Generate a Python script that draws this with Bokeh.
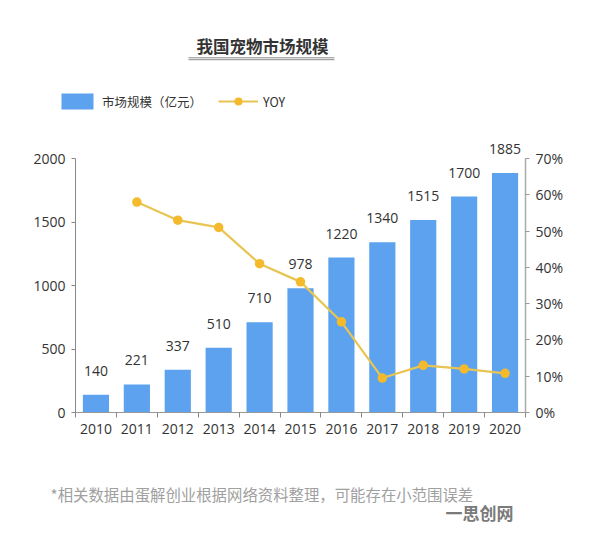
from bokeh.plotting import figure
from bokeh.models import (Range1d, LinearAxis, FixedTicker, PrintfTickFormatter,
                          ColumnDataSource, LabelSet, Label, Legend, LegendItem, Arrow)
from bokeh.core.properties import value
from bokeh.embed import file_html
from bokeh.resources import INLINE

years = ["2010", "2011", "2012", "2013", "2014", "2015", "2016", "2017", "2018", "2019", "2020"]
market = [140, 221, 337, 510, 710, 978, 1220, 1340, 1515, 1700, 1885]
yoy_years = ["2011", "2012", "2013", "2014", "2015", "2016", "2017", "2018", "2019", "2020"]
yoy = [58, 53, 51, 41, 36, 25, 9.5, 13, 12, 10.8]
left_ticks = [0, 500, 1000, 1500, 2000]
right_ticks = [0, 10, 20, 30, 40, 50, 60, 70]

title_text = "我国宠物市场规模"
bar_name = "市场规模（亿元）"
line_name = "YOY"
note_text = "*相关数据由蛋解创业根据网络资料整理，可能存在小范围误差"
mark_text = "一思创网"

FONT = "Open Sans"
CJK = "Noto Sans CJK SC"

W, H = 596, 535
# pixel layout of the plotting area on the canvas
PX_L, PX_R = 75, 525          # category block left / right edge
PX_TOP, PX_BOT = 158, 412     # y of the top tick / zero line
n = len(years)
LMAX, RMAX = left_ticks[-1], right_ticks[-1]
ux = (PX_R - PX_L) / n        # px per category
uy = (PX_BOT - PX_TOP)        # px for the whole tick span

x0 = -0.5 - PX_L / ux
x1 = n - 0.5 + (W - PX_R) / ux
def yr(top):
    return Range1d(-(H - PX_BOT) * top / uy, PX_BOT * top / uy)

xpos = list(range(n))
ypos = [years.index(y) for y in yoy_years]

p = figure(width=W, height=H, output_backend="svg", toolbar_location=None,
           x_range=Range1d(x0, x1), y_range=yr(LMAX),
           min_border_left=0, min_border_right=0, min_border_top=0, min_border_bottom=0,
           background_fill_color="white", border_fill_color="white")
p.outline_line_color = None
p.xgrid.visible = False
p.ygrid.visible = False
p.extra_y_ranges = {"yoy": yr(RMAX)}

src = ColumnDataSource(dict(x=xpos, v=market, lab=[str(m) for m in market]))
bars = p.vbar(x="x", top="v", width=0.64, source=src, fill_color="#5ca2ee", line_color=None)

lsrc = ColumnDataSource(dict(x=ypos, y=yoy))
ln = p.line(x="x", y="y", source=lsrc, y_range_name="yoy", line_color="#e8c552", line_width=2.2)
pts = p.scatter(x="x", y="y", source=lsrc, y_range_name="yoy", size=9.5,
                fill_color="#f4ba2c", line_color=None)

labels = LabelSet(x="x", y="v", text="lab", source=src, text_align="center",
                  text_baseline="alphabetic", y_offset=19, text_font=value(FONT),
                  text_font_size=value("14px"), text_color=value("#333333"))
p.add_layout(labels)

# x axis
xa = p.xaxis[0]
xa.fixed_location = 0
xa.bounds = (-0.5, n - 0.5)
xa.ticker = FixedTicker(ticks=xpos, minor_ticks=[i - 0.5 for i in range(n + 1)])
xa.major_label_overrides = {i: y for i, y in zip(xpos, years)}
xa.major_tick_out = 0
xa.major_tick_in = 0
xa.minor_tick_out = 5
xa.minor_tick_in = 0
xa.minor_tick_line_color = "#888888"
xa.axis_line_color = "#999999"
xa.major_label_text_font = FONT
xa.major_label_text_font_size = "14px"
xa.major_label_text_color = "#333333"
xa.major_label_standoff = 6

ya = p.yaxis[0]
ya.fixed_location = -0.5
ya.bounds = (0, LMAX)
ya.ticker = FixedTicker(ticks=left_ticks, minor_ticks=[])
ya.major_tick_out = 4
ya.major_tick_in = 0
ya.minor_tick_out = 0
ya.axis_line_color = "#888888"
ya.major_tick_line_color = "#888888"
ya.major_label_text_font = FONT
ya.major_label_text_font_size = "14px"
ya.major_label_text_color = "#333333"
ya.major_label_standoff = 6

ra = LinearAxis(y_range_name="yoy", bounds=(0, RMAX), fixed_location=n - 0.5,
                ticker=FixedTicker(ticks=right_ticks, minor_ticks=[]),
                formatter=PrintfTickFormatter(format="%d%%"))
ra.major_tick_out = 4
ra.major_tick_in = 0
ra.minor_tick_out = 0
ra.axis_line_color = "#aaaaaa"
ra.axis_line_width = 1.5
ra.major_tick_line_color = "#999999"
ra.major_label_text_font = FONT
ra.major_label_text_font_size = "14px"
ra.major_label_text_color = "#333333"
ra.major_label_standoff = 6
p.add_layout(ra, "right")

# helpers converting canvas pixels to data units (for annotations)
def fx(px):
    return x0 + px / ux

def fy(py):
    return (PX_BOT - py) * LMAX / uy

# title
p.add_layout(Label(x=fx(262), y=fy(45), text=title_text, text_align="center",
                   text_baseline="middle", text_font=CJK, text_font_size="16.5px",
                   text_font_style="bold", text_color="#333333"))
for yy in (57.3, 59.2):
    p.add_layout(Arrow(end=None, start=None, x_start=fx(188), x_end=fx(334),
                       y_start=fy(yy), y_end=fy(yy), line_color="#8a8a8a", line_width=1))

# legend
legend = Legend(items=[LegendItem(label=bar_name, renderers=[bars]),
                       LegendItem(label=line_name, renderers=[ln, pts])],
                orientation="horizontal", location=(57, H - 111),
                glyph_width=40, glyph_height=20, label_standoff=5, spacing=16,
                padding=0, margin=0, border_line_color=None, background_fill_alpha=0,
                label_text_font=CJK, label_text_font_size="12.5px", label_text_color="#333333")
p.add_layout(legend, "center")

# footnote and watermark
p.add_layout(Label(x=fx(50), y=fy(493), text=note_text, text_align="left",
                   text_baseline="middle", text_font=CJK, text_font_size="15.4px",
                   text_color="#a0a0a0"))
p.add_layout(Label(x=fx(445), y=fy(512), text=mark_text, text_align="left",
                   text_baseline="middle", text_font=CJK, text_font_size="17px",
                   text_font_style="bold", text_color="#7a7a7a"))

open("out.html", "w").write(file_html(p, INLINE))
